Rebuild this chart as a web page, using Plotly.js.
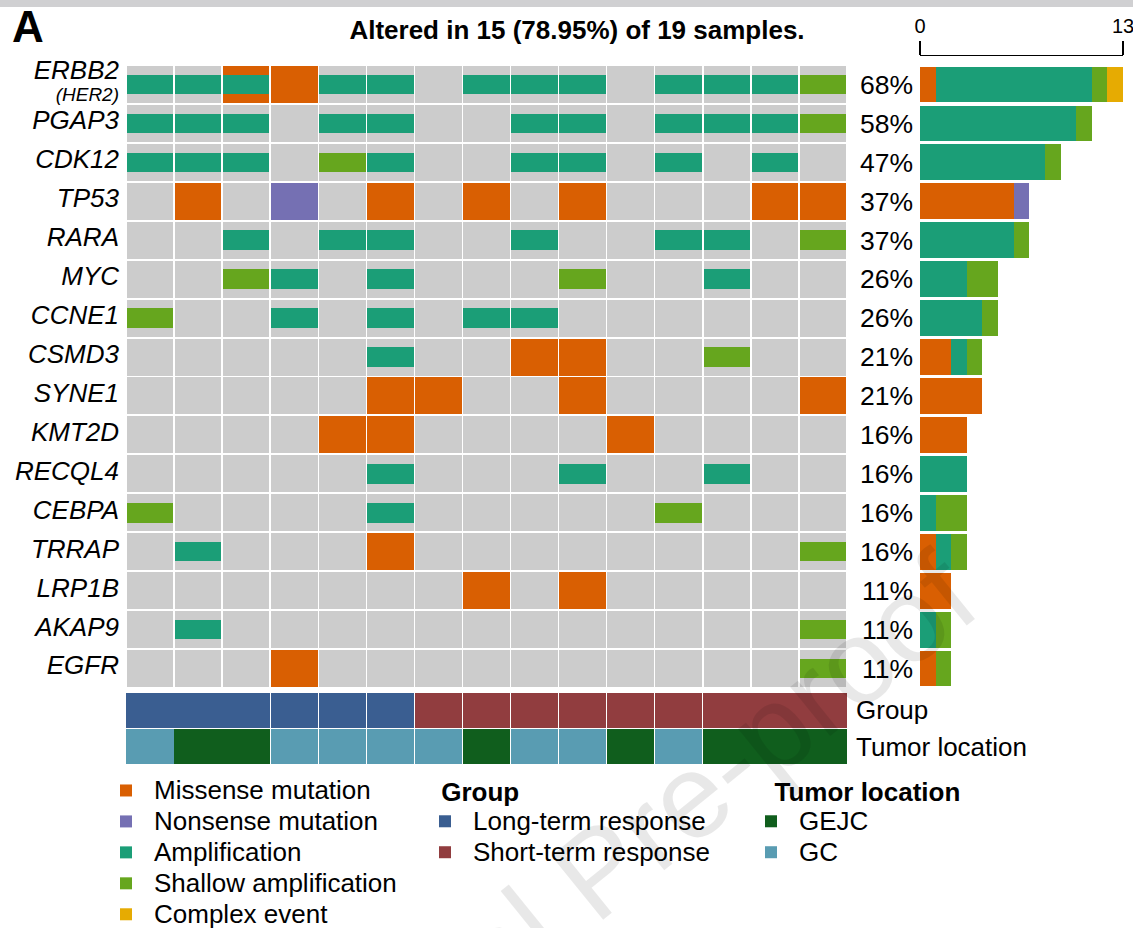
<!DOCTYPE html>
<html><head><meta charset="utf-8">
<script src="https://cdn.plot.ly/plotly-3.0.1.min.js"></script>
<style>html,body{margin:0;padding:0;background:#fff}#chart{width:1133px;height:928px}</style>
</head><body><div id="chart"></div>
<script>
// ---------------- DATA ----------------
const genes = ['ERBB2','PGAP3','CDK12','TP53','RARA','MYC','CCNE1','CSMD3','SYNE1','KMT2D','RECQL4','CEBPA','TRRAP','LRP1B','AKAP9','EGFR'];
const geneSubLabels = {ERBB2: '(HER2)'};
const samples = ['S01','S02','S03','S04','S05','S06','S07','S08','S09','S10','S11','S12','S13','S14','S15'];
const totalSamples = 19;
// codes: M = missense, N = nonsense, A = amplification, S = shallow amplification, MA = missense + amplification
const oncoMatrix = [
  ['A','A','MA','M','A','A','','A','A','A','','A','A','A','S'],   // ERBB2
  ['A','A','A','','A','A','','','A','A','','A','A','A','S'],      // PGAP3
  ['A','A','A','','S','A','','','A','A','','A','','A',''],        // CDK12
  ['','M','','N','','M','','M','','M','','','','M','M'],          // TP53
  ['','','A','','A','A','','','A','','','A','A','','S'],          // RARA
  ['','','S','A','','A','','','','S','','','A','',''],            // MYC
  ['S','','','A','','A','','A','A','','','','','',''],            // CCNE1
  ['','','','','','A','','','M','M','','','S','',''],             // CSMD3
  ['','','','','','M','M','','','M','','','','','M'],             // SYNE1
  ['','','','','M','M','','','','','M','','','',''],              // KMT2D
  ['','','','','','A','','','','A','','','A','',''],              // RECQL4
  ['S','','','','','A','','','','','','S','','',''],              // CEBPA
  ['','A','','','','M','','','','','','','','','S'],              // TRRAP
  ['','','','','','','','M','','M','','','','',''],               // LRP1B
  ['','A','','','','','','','','','','','','','S'],               // AKAP9
  ['','','','M','','','','','','','','','','','S']                // EGFR
];
const barMissense = [1,0,0,6,0,0,0,2,4,3,0,0,1,2,0,1];
const barNonsense = [0,0,0,1,0,0,0,0,0,0,0,0,0,0,0,0];
const barAmp      = [10,10,8,0,6,3,4,1,0,0,3,1,1,0,1,0];
const barShallow  = [1,1,1,0,1,2,1,1,0,0,0,2,1,0,1,1];
const barComplex  = [1,0,0,0,0,0,0,0,0,0,0,0,0,0,0,0];
const groupTrack  = ['Long-term response','Long-term response','Long-term response','Long-term response','Long-term response','Long-term response',
  'Short-term response','Short-term response','Short-term response','Short-term response','Short-term response','Short-term response','Short-term response','Short-term response','Short-term response'];
const tumorTrack  = ['GC','GEJC','GEJC','GC','GC','GC','GC','GEJC','GC','GC','GEJC','GC','GEJC','GEJC','GEJC'];
const groupLevels = ['Long-term response','Short-term response'];
const tumorLevels = ['GEJC','GC'];
const trackNames  = ['Group','Tumor location'];

// ---------------- STYLE ----------------
const W = 1133, H = 928;
const FONT = 'Liberation Sans, Arial, Helvetica, sans-serif';
const colors = {M:'#D95F02', N:'#7570B3', A:'#1B9E77', S:'#66A61E', C:'#E6AB02', bg:'#CCCCCC'};
const groupColors = {'Long-term response':'#3A5E91','Short-term response':'#913D3F'};
const tumorColors = {'GEJC':'#105E1D','GC':'#599CB2'};
const px = v => v / W, py = v => 1 - v / H;
const legendLabel = s => '<span style="font-size:26px">' + s + '</span>';

const traces = [];
const cellW = 0.97, fullH = 0.95, cnvH = 0.5;

function cellTrace(test, color, thick) {
  const y = [], base = [], x = [];
  genes.forEach((g, gi) => {
    oncoMatrix[gi].forEach((code, ci) => {
      if (test(code)) { y.push(g); base.push(ci + 1 - cellW / 2); x.push(cellW); }
    });
  });
  return {type:'bar', orientation:'h', x, y, base, width: thick, xaxis:'x', yaxis:'y',
    marker:{color, line:{width:0}}, showlegend:false, hoverinfo:'skip'};
}
traces.push(cellTrace(() => true, colors.bg, fullH));
traces.push(cellTrace(c => c.includes('M'), colors.M, fullH));
traces.push(cellTrace(c => c.includes('N'), colors.N, fullH));
traces.push(cellTrace(c => c.includes('A'), colors.A, cnvH));
traces.push(cellTrace(c => c.includes('S'), colors.S, cnvH));

// right-hand stacked bars
const barSeries = [
  {name:'Missense mutation', vals:barMissense, color:colors.M},
  {name:'Nonsense mutation', vals:barNonsense, color:colors.N},
  {name:'Amplification', vals:barAmp, color:colors.A},
  {name:'Shallow amplification', vals:barShallow, color:colors.S},
  {name:'Complex event', vals:barComplex, color:colors.C}
];
const cum = genes.map(() => 0);
barSeries.forEach(s => {
  traces.push({type:'bar', orientation:'h', name:legendLabel(s.name), y:genes, x:s.vals, base:cum.slice(),
    width:0.92, xaxis:'x2', yaxis:'y2', marker:{color:s.color, line:{width:0}},
    legend:'legend', showlegend:true, hoverinfo:'skip'});
  s.vals.forEach((v, i) => cum[i] += v);
});
const totals = cum.slice();

// annotation tracks
function trackTrace(values, level, color, trackName, legendId) {
  const y = [], base = [], x = [];
  values.forEach((v, ci) => { if (v === level) { y.push(trackName); base.push(ci + 1 - 0.4925); x.push(0.985); } });
  return {type:'bar', orientation:'h', name:legendLabel(level), x, y, base, width:0.97, xaxis:'x', yaxis:'y3',
    marker:{color, line:{width:0}}, legend:legendId, showlegend:true, hoverinfo:'skip'};
}
groupLevels.forEach(l => traces.push(trackTrace(groupTrack, l, groupColors[l], trackNames[0], 'legend2')));
tumorLevels.forEach(l => traces.push(trackTrace(tumorTrack, l, tumorColors[l], trackNames[1], 'legend3')));

const geneTickText = genes.map(g => {
  let t = '<i><span style="font-size:26px">' + g + '</span></i>';
  if (geneSubLabels[g]) t += '<br><i><span style="font-size:19px">' + geneSubLabels[g] + '</span></i>';
  return t;
});
const pctText = totals.map(t => Math.round(t / totalSamples * 100) + '%');

const legendCommon = {orientation:'v', bgcolor:'rgba(0,0,0,0)', borderwidth:0, font:{family:FONT, size:21.5, color:'#000'},
  xanchor:'left', yanchor:'top', traceorder:'normal', itemclick:false, itemdoubleclick:false, tracegroupgap:0, itemwidth:46};
const legendTitleFont = {family:FONT, size:26, color:'#000'};

const layout = {
  width:W, height:H, margin:{l:0,r:0,t:0,b:0,autoexpand:false}, paper_bgcolor:'#fff', plot_bgcolor:'rgba(0,0,0,0)',
  barmode:'overlay', bargap:0, font:{family:FONT, color:'#000'},
  title:{text:'<b>Altered in 15 (78.95%) of 19 samples.</b>', font:{family:FONT, size:26, color:'#000'},
    x:px(577), y:py(30), xanchor:'center', yanchor:'middle', xref:'paper', yref:'container'},
  xaxis:{domain:[px(126), px(847)], range:[0.5, 15.5], visible:false, fixedrange:true},
  yaxis:{domain:[py(688), py(65)], anchor:'x', type:'category', categoryarray:genes, range:[genes.length - 0.5, -0.5],
    tickvals:genes, ticktext:geneTickText, ticks:'', showgrid:false, zeroline:false, showline:false,
    tickfont:{family:FONT, size:17, color:'#000'}, ticklabelstandoff:6, fixedrange:true},
  xaxis2:{domain:[px(920), px(1123)], range:[0, 13], side:'top', anchor:'free', position:py(55),
    tickvals:[0, 13], ticks:'outside', ticklen:14, tickwidth:1.3, tickcolor:'#000', showline:true, linewidth:1.3,
    linecolor:'#000', showgrid:false, zeroline:false, tickfont:{family:FONT, size:20, color:'#000'},
    ticklabeloverflow:'allow', fixedrange:true},
  yaxis2:{domain:[py(688), py(65)], anchor:'x2', type:'category', categoryarray:genes, range:[genes.length - 0.5, -0.5],
    tickvals:genes, ticktext:pctText, ticks:'', showgrid:false, zeroline:false, showline:false,
    tickfont:{family:FONT, size:26.5, color:'#000'}, ticklabelstandoff:6, fixedrange:true},
  yaxis3:{domain:[py(765), py(692)], anchor:'x', side:'right', type:'category', categoryarray:trackNames,
    range:[1.5, -0.5], tickvals:trackNames, ticktext:trackNames, ticks:'', showgrid:false, zeroline:false, showline:false,
    tickfont:{family:FONT, size:26, color:'#000'}, ticklabelstandoff:8, fixedrange:true},
  legend:Object.assign({}, legendCommon, {x:px(98), y:py(770)}),
  legend2:Object.assign({}, legendCommon, {x:px(432), y:py(767), indentation:-15,
    title:{text:'\u00a0<b>Group</b>', side:'top', font:legendTitleFont}}),
  legend3:Object.assign({}, legendCommon, {x:px(758), y:py(767), indentation:-15,
    title:{text:'\u00a0\u00a0<b>Tumor location</b>', side:'top', font:legendTitleFont}}),
  shapes:[{type:'rect', xref:'paper', yref:'paper', x0:0, x1:1, y0:py(7), y1:1, fillcolor:'#D0D0D2', line:{width:0}, layer:'below'}],
  annotations:[
    {text:'<b>A</b>', x:px(28), y:py(27), xref:'paper', yref:'paper', showarrow:false, xanchor:'center', yanchor:'middle',
      font:{family:FONT, size:44, color:'#000'}},
    {text:'Journal Pre-proof', x:px(598), y:py(870), xref:'paper', yref:'paper', showarrow:false, textangle:-39,
      xanchor:'center', yanchor:'middle', font:{family:FONT, size:120, color:'rgba(0,0,0,0.09)'}}
  ]
};

Plotly.newPlot('chart', traces, layout, {displayModeBar:false, staticPlot:true});
</script>
</body></html>
